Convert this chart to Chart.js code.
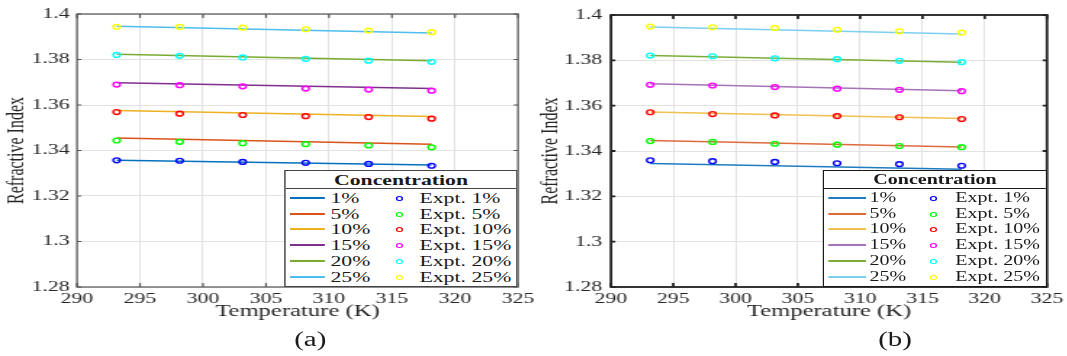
<!DOCTYPE html>
<html>
<head>
<meta charset="utf-8">
<script src="https://cdn.jsdelivr.net/npm/chart.js@4.4.1/dist/chart.umd.min.js"></script>
<style>
    html, body { margin: 0; padding: 0; background: #fff; overflow: hidden; }
    body { width: 1067px; height: 356px; position: relative; font-family: 'Liberation Serif', 'Times New Roman', serif; color: #1a1a1a; }
    .painel { position: absolute; top: 0; width: 372px; height: 356px; transform-origin: 0 0; transform: scaleX(1.45); }
    .painel canvas { position: absolute; left: 0; top: 0; }
    .legenda { position: absolute; top: 170px; height: 117px; background: #fff; box-sizing: border-box; }
    .legenda div { position: absolute; white-space: nowrap; }
    .rotulo-painel { position: absolute; top: 327px; width: 60px; text-align: center; font-size: 20px; line-height: 24px; }
</style>
</head>
<body>
<div class="painel" id="painel-a" style="left:0px">
    <canvas id="grafico-a" width="372" height="330"></canvas>
    <div class="legenda" id="legenda-a"></div>
    <div class="rotulo-painel" style="left:184px">(a)</div>
</div>
<div class="painel" id="painel-b" style="left:534px">
    <canvas id="grafico-b" width="372" height="330"></canvas>
    <div class="legenda" id="legenda-b"></div>
    <div class="rotulo-painel" style="left:219px">(b)</div>
</div>
<script>
const TEMPERATURAS = [293.15, 298.15, 303.15, 308.15, 313.15, 318.15];
const TEMP_RETA = [293.15, 318.15];
const CONCENTRACOES = ['1%', '5%', '10%', '15%', '20%', '25%'];

// (a) pontos experimentais, uma linha por concentracao
const EXPT_A = [
    [1.3357, 1.3355, 1.3350, 1.3346, 1.3341, 1.3333],
    [1.3444, 1.3438, 1.3432, 1.3428, 1.3422, 1.3414],
    [1.3569, 1.3562, 1.3556, 1.3551, 1.3547, 1.3540],
    [1.3690, 1.3687, 1.3682, 1.3672, 1.3668, 1.3663],
    [1.3820, 1.3816, 1.3809, 1.3803, 1.3795, 1.3790],
    [1.3944, 1.3943, 1.3940, 1.3933, 1.3927, 1.3920],
];
// (a) modelo: valor em 293.15 K e em 318.15 K
const MODELO_A = [
    [1.3357, 1.3336],
    [1.3455, 1.3428],
    [1.3576, 1.3549],
    [1.3698, 1.3672],
    [1.3823, 1.3794],
    [1.3946, 1.3917],
];

const EXPT_B = [
    [1.3359, 1.3355, 1.3352, 1.3346, 1.3342, 1.3335],
    [1.3444, 1.3440, 1.3432, 1.3428, 1.3422, 1.3417],
    [1.3571, 1.3563, 1.3557, 1.3554, 1.3549, 1.3541],
    [1.3692, 1.3689, 1.3682, 1.3675, 1.3670, 1.3664],
    [1.3821, 1.3818, 1.3809, 1.3805, 1.3798, 1.3792],
    [1.3949, 1.3946, 1.3943, 1.3935, 1.3928, 1.3922],
];
const MODELO_B = [
    [1.3345, 1.3319],
    [1.3446, 1.3418],
    [1.3572, 1.3543],
    [1.3697, 1.3666],
    [1.3821, 1.3792],
    [1.3947, 1.3916],
];

const CORES_LINHA_A = ['#0072BD', '#D95319', '#EDB120', '#7E2F8E', '#77AC30', '#4DBEEE'];
const CORES_LINHA_B = ['#1E7CC0', '#DE6A3C', '#F0C050', '#A574B5', '#7AAE38', '#7DCFF2'];
const CORES_PONTO = ['#0000FF', '#00FF00', '#FF0000', '#FF00FF', '#00FFFF', '#FFFF00'];

Chart.defaults.font.family = "'Liberation Serif', 'Times New Roman', serif";
Chart.defaults.color = '#262626';

const ALTURA = 330;
const FUNDO_GRAFICO = 287;

const molduraPlugin = {
    id: 'moldura',
    afterDraw(chart, args, opts) {
        const { ctx, chartArea: a, scales: { x, y } } = chart;
        ctx.save();
        ctx.strokeStyle = opts.cor;
        ctx.lineWidth = opts.largura;
        ctx.strokeRect(a.left, a.top, a.right - a.left, a.bottom - a.top);
        ctx.beginPath();
        x.ticks.forEach((t) => {
            const px = x.getPixelForValue(t.value);
            ctx.moveTo(px, a.bottom); ctx.lineTo(px, a.bottom - 4);
            ctx.moveTo(px, a.top); ctx.lineTo(px, a.top + 4);
        });
        y.ticks.forEach((t) => {
            const py = y.getPixelForValue(t.value);
            ctx.moveTo(a.left, py); ctx.lineTo(a.left + 3, py);
            ctx.moveTo(a.right, py); ctx.lineTo(a.right - 3, py);
        });
        ctx.stroke();
        ctx.restore();
    },
};

function criarGrafico(canvas, cfg) {
    const datasets = [];
    CONCENTRACOES.forEach((rotulo, i) => {
        datasets.push({
            label: 'Expt. ' + rotulo,
            data: TEMPERATURAS.map((t, j) => ({ x: t, y: cfg.expt[i][j] })),
            showLine: false,
            pointRadius: 2.4,
            pointBorderWidth: 1.4,
            pointBorderColor: CORES_PONTO[i],
            pointBackgroundColor: 'rgba(0,0,0,0)',
            order: 0,
        });
        datasets.push({
            label: rotulo,
            data: TEMP_RETA.map((t, j) => ({ x: t, y: cfg.modelo[i][j] })),
            showLine: true,
            borderColor: cfg.cores[i],
            borderWidth: 1.5,
            pointRadius: 0,
            order: 1,
        });
    });

    const grade = { color: '#e2e2e2', lineWidth: 1, drawTicks: false };

    return new Chart(canvas, {
        type: 'scatter',
        data: { datasets },
        options: {
            responsive: false,
            animation: false,
            layout: { padding: { left: 0, top: 13, right: cfg.padDireita, bottom: 0 } },
            plugins: {
                legend: { display: false },
                tooltip: { enabled: false },
                moldura: { cor: cfg.corEixo, largura: cfg.larguraEixo },
            },
            scales: {
                x: {
                    type: 'linear',
                    min: 290,
                    max: 325,
                    ticks: { stepSize: 5, padding: 3, maxRotation: 0, autoSkip: false, font: { size: 15 } },
                    grid: grade,
                    border: { display: false },
                    title: { display: true, text: 'Temperature (K)', font: { size: 17 }, padding: { top: 0, bottom: 8.4 } },
                    afterFit(escala) {
                        escala.height = ALTURA - FUNDO_GRAFICO;
                        escala.paddingLeft = 0;
                        escala.paddingRight = 0;
                    },
                },
                y: {
                    type: 'linear',
                    min: 1.28,
                    max: 1.4,
                    ticks: {
                        stepSize: 0.02,
                        padding: cfg.padRotuloY,
                        font: { size: 15 },
                        callback: (v) => String(Number(v.toFixed(2))),
                    },
                    grid: grade,
                    border: { display: false },
                    title: { display: true, text: 'Refractive Index', font: { size: 16 }, padding: { top: 2, bottom: 2 } },
                    afterFit(escala) {
                        escala.width = 53.1;
                    },
                },
            },
        },
        plugins: [molduraPlugin],
    });
}

function montarLegenda(el, cfg) {
    el.style.left = cfg.esquerda + 'px';
    el.style.width = cfg.largura + 'px';
    el.style.border = cfg.borda;
    el.style.fontSize = cfg.fonte + 'px';

    const titulo = document.createElement('div');
    titulo.textContent = 'Concentration';
    titulo.style.cssText = `left:0;width:100%;top:1px;text-align:center;font-weight:bold;line-height:16px;`;
    el.appendChild(titulo);

    const separador = document.createElement('div');
    separador.style.cssText = `left:0;width:100%;top:17px;height:0;border-top:${cfg.borda};`;
    el.appendChild(separador);

    CONCENTRACOES.forEach((rotulo, i) => {
        const yLinha = Math.round(26.7 + i * 15.8);

        const amostra = document.createElement('div');
        amostra.style.cssText = `left:${cfg.xAmostra}px;width:${cfg.larguraAmostra}px;top:${yLinha - 1}px;height:2px;background-color:${cfg.cores[i]};`;
        el.appendChild(amostra);

        const texto = document.createElement('div');
        texto.textContent = rotulo;
        texto.style.cssText = `left:${cfg.xTexto}px;top:${yLinha - 8}px;line-height:16px;`;
        el.appendChild(texto);

        const marcador = document.createElement('div');
        marcador.style.cssText = `left:${cfg.xMarcador - 2.4}px;top:${yLinha - 2.5}px;width:4.8px;height:5px;box-sizing:border-box;border:1.3px solid ${CORES_PONTO[i]};border-radius:50%;`;
        el.appendChild(marcador);

        const textoExpt = document.createElement('div');
        textoExpt.textContent = 'Expt. ' + rotulo;
        textoExpt.style.cssText = `left:${cfg.xTextoExpt}px;top:${yLinha - 8}px;line-height:16px;`;
        el.appendChild(textoExpt);
    });
}

criarGrafico(document.getElementById('grafico-a'), {
    expt: EXPT_A, modelo: MODELO_A, cores: CORES_LINHA_A,
    padDireita: 14.8, padRotuloY: 5, corEixo: '#555', larguraEixo: 1.2,
});
criarGrafico(document.getElementById('grafico-b'), {
    expt: EXPT_B, modelo: MODELO_B, cores: CORES_LINHA_B,
    padDireita: 18.2, padRotuloY: 6, corEixo: '#222', larguraEixo: 1.8,
});

montarLegenda(document.getElementById('legenda-a'), {
    esquerda: 195.9, largura: 161.4, borda: '1px solid #444', fonte: 15, cores: CORES_LINHA_A,
    xAmostra: 2.7, larguraAmostra: 24.8, xTexto: 31, xMarcador: 78.6, xTextoExpt: 92.4,
});
montarLegenda(document.getElementById('legenda-b'), {
    esquerda: 199.3, largura: 154.5, borda: '1.4px solid #1a1a1a', fonte: 13.8, cores: CORES_LINHA_B,
    xAmostra: 2.8, larguraAmostra: 26.2, xTexto: 31, xMarcador: 75.2, xTextoExpt: 90.3,
});
</script>
</body>
</html>
